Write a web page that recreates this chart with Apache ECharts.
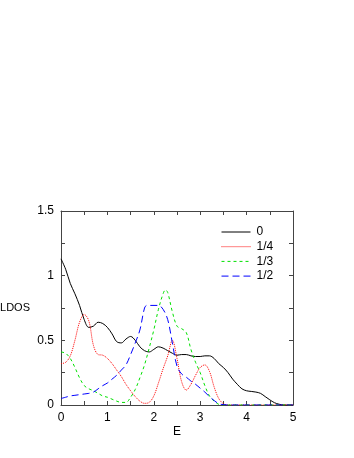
<!DOCTYPE html>
<html><head><meta charset="utf-8">
<script src="https://cdn.jsdelivr.net/npm/echarts@6/dist/echarts.min.js"></script>
<style>html,body{margin:0;padding:0;background:#fff}#c{width:354px;height:458px}</style>
</head><body><div id="c"></div>
<script>
const seriesNames = ['0', '1/4', '1/3', '1/2'];
const xTicks = [0, 1, 2, 3, 4, 5];
const yTicks = [0, 0.5, 1, 1.5];

const eBlack = [0,0.1,0.2,0.3,0.4,0.5,0.6,0.7,0.8,0.9,1.0,1.1,1.2,1.3,1.4,1.5,1.6,1.7,1.8,1.9,2.0,2.1,2.2,2.3,2.4,2.5,2.6,2.7,2.8,2.9,3.0,3.1,3.2,3.3,3.4,3.5,3.6,3.7,3.8,3.9,4.0,4.1,4.2,4.3,4.4,4.5,4.6,4.7,4.8,5.0];
const vBlack = [1.13,1.05,0.94,0.86,0.77,0.66,0.60,0.61,0.64,0.63,0.60,0.55,0.49,0.48,0.51,0.53,0.50,0.45,0.42,0.41,0.43,0.45,0.44,0.42,0.40,0.385,0.39,0.39,0.38,0.375,0.375,0.38,0.38,0.36,0.32,0.29,0.25,0.20,0.16,0.125,0.11,0.105,0.10,0.09,0.065,0.04,0.018,0.006,0,0];

const eRed = [0,0.1,0.2,0.3,0.4,0.5,0.6,0.7,0.8,0.9,1.0,1.1,1.2,1.3,1.4,1.5,1.6,1.7,1.8,1.9,2.0,2.1,2.2,2.3,2.4,2.5,2.6,2.7,2.8,2.9,3.0,3.1,3.2,3.3,3.4,3.5,3.6,5.0];
const vRed = [0.32,0.33,0.38,0.50,0.64,0.70,0.65,0.46,0.39,0.385,0.36,0.32,0.27,0.22,0.16,0.11,0.065,0.03,0.013,0.02,0.07,0.17,0.28,0.38,0.50,0.36,0.18,0.115,0.16,0.23,0.29,0.31,0.26,0.14,0.05,0.01,0,0];

const eGreen = [0,0.1,0.2,0.3,0.4,0.5,0.6,0.7,0.8,0.9,1.0,1.1,1.2,1.3,1.4,1.5,1.6,1.7,1.8,1.9,2.0,2.1,2.2,2.25,2.3,2.4,2.5,2.6,2.7,2.8,2.9,3.0,3.1,3.2,3.3,3.4,3.5,5.0];
const vGreen = [0.41,0.40,0.36,0.29,0.21,0.15,0.125,0.11,0.09,0.07,0.06,0.045,0.03,0.02,0.02,0.06,0.12,0.21,0.31,0.44,0.58,0.74,0.86,0.89,0.87,0.72,0.61,0.59,0.56,0.43,0.33,0.25,0.15,0.07,0.03,0.005,0,0];

const eBlue = [0,0.1,0.2,0.3,0.4,0.5,0.6,0.7,0.8,0.9,1.0,1.1,1.2,1.3,1.4,1.5,1.6,1.7,1.8,1.85,2.1,2.2,2.3,2.4,2.5,2.6,2.7,2.8,2.9,3.0,3.1,3.2,3.3,3.4,3.5,3.6,5.0];
const vBlue = [0.05,0.06,0.07,0.075,0.08,0.085,0.09,0.10,0.125,0.15,0.17,0.20,0.23,0.27,0.31,0.39,0.48,0.58,0.75,0.77,0.77,0.74,0.66,0.48,0.30,0.24,0.215,0.185,0.16,0.13,0.10,0.065,0.035,0.01,0.003,0,0];

const zip = (a, b) => a.map((x, i) => [x, b[i]]);
const FONT = 'Liberation Sans';
const axisCol = '#444';

const chart = echarts.init(document.getElementById('c'), null, {renderer: 'canvas'});
const baseX = {
  type: 'value', min: 0, max: 5, interval: 1,
  axisLine: {show: true, onZero: false, lineStyle: {color: axisCol, width: 1}},
  axisTick: {show: true, inside: true, length: 4, lineStyle: {color: axisCol}},
  minorTick: {show: true, splitNumber: 2, length: 4, lineStyle: {color: axisCol}},
  splitLine: {show: false}
};
const baseY = {
  type: 'value', min: 0, max: 1.5, interval: 0.5,
  axisLine: {show: true, onZero: false, lineStyle: {color: axisCol, width: 1}},
  axisTick: {show: true, inside: true, length: 4, lineStyle: {color: axisCol}},
  minorTick: {show: true, splitNumber: 2, length: 4, lineStyle: {color: axisCol}},
  splitLine: {show: false}
};
const mk = (name, e, v, color, type) => ({
  name, type: 'line', data: zip(e, v), smooth: 0.35, symbol: 'none',
  lineStyle: {color, width: 1, type}, itemStyle: {color}
});
chart.setOption({
  animation: false,
  backgroundColor: '#fff',
  grid: {left: 61, right: 61, top: 211, bottom: 53, containLabel: false, outerBoundsMode: 'none'},
  textStyle: {fontFamily: FONT},
  legend: {
    orient: 'vertical', left: 221, top: 226, padding: 0,
    itemWidth: 29, itemHeight: 12, itemGap: 2.7,
    itemStyle: {opacity: 0},
    lineStyle: {width: 1, inactiveWidth: 1},
    textStyle: {fontFamily: FONT, fontSize: 12, color: '#000', padding: [0, 0, 0, 1]},
    data: seriesNames
  },
  xAxis: [
    Object.assign({}, baseX, {position: 'bottom',
      axisLabel: {show: true, color: '#000', fontFamily: FONT, fontSize: 12, margin: 7,
        formatter: v => xTicks.includes(v) ? String(v) : ''},
      name: 'E', nameLocation: 'middle', nameGap: 21, nameMoveOverlap: false,
      nameTextStyle: {color: '#000', fontFamily: FONT, fontSize: 12}}),
    Object.assign({}, baseX, {position: 'top', axisLabel: {show: false}})
  ],
  yAxis: [
    Object.assign({}, baseY, {position: 'left',
      axisLabel: {show: true, color: '#000', fontFamily: FONT, fontSize: 12, margin: 7,
        formatter: v => yTicks.includes(v) ? String(v) : ''},
      name: 'LDOS', nameLocation: 'middle', nameGap: 31, nameRotate: 0, nameMoveOverlap: false,
      nameTextStyle: {color: '#000', fontFamily: FONT, fontSize: 11, align: 'right', verticalAlign: 'middle'}}),
    Object.assign({}, baseY, {position: 'right', axisLabel: {show: false}})
  ],
  series: [
    mk(seriesNames[0], eBlack, vBlack, '#000000', 'solid'),
    mk(seriesNames[1], eRed, vRed, '#ff0000', [1, 1]),
    mk(seriesNames[2], eGreen, vGreen, '#00e000', [3, 3]),
    mk(seriesNames[3], eBlue, vBlue, '#0000ff', [7, 4])
  ]
});
</script></body></html>
